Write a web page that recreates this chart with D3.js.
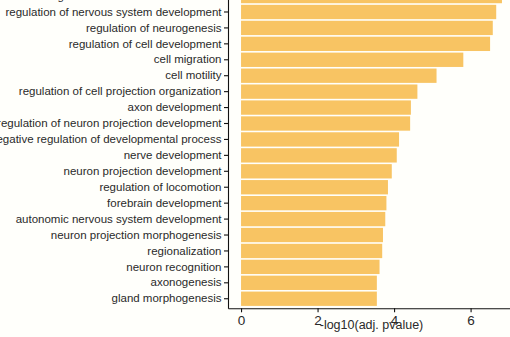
<!DOCTYPE html>
<html>
<head>
<meta charset="utf-8">
<script src="https://cdn.jsdelivr.net/npm/d3@7"></script>
<style>
  html, body { margin: 0; padding: 0; background: #fffffb; }
  svg { display: block; }
</style>
</head>
<body>
<svg id="chart" width="510" height="337"></svg>
<script>
// GO terms, top to bottom, with their enrichment scores
const categories = [
  "regulation of neuron differentiation",
  "regulation of nervous system development",
  "regulation of neurogenesis",
  "regulation of cell development",
  "cell migration",
  "cell motility",
  "regulation of cell projection organization",
  "axon development",
  "regulation of neuron projection development",
  "negative regulation of developmental process",
  "nerve development",
  "neuron projection development",
  "regulation of locomotion",
  "forebrain development",
  "autonomic nervous system development",
  "neuron projection morphogenesis",
  "regionalization",
  "neuron recognition",
  "axonogenesis",
  "gland morphogenesis"
];
const values = [
  6.82, 6.67, 6.58, 6.51, 5.81, 5.11, 4.61, 4.44, 4.42, 4.13,
  4.07, 3.94, 3.84, 3.80, 3.77, 3.71, 3.69, 3.62, 3.55, 3.55
];
const xTickValues = [0, 2, 4, 6];
const xTitle = "-log10(adj. pvalue)";

const svg = d3.select("#chart");
const font = "'Liberation Sans', Arial, Helvetica, sans-serif";

const panel = { left: 228, right: 515, top: -13.5, bottom: 308.3 };

const xMax = d3.max(values);
const x = d3.scaleLinear()
  .domain([-0.05 * xMax, xMax * 1.05])
  .range([panel.left, panel.right]);

const y = d3.scaleBand()
  .domain(categories)
  .range([panel.top, panel.bottom])
  .paddingInner(0.1)
  .paddingOuter(0.15);

// bars
svg.append("g")
  .selectAll("rect")
  .data(categories)
  .join("rect")
  .attr("x", x(0))
  .attr("y", d => y(d))
  .attr("width", (d, i) => x(values[i]) - x(0))
  .attr("height", y.bandwidth())
  .attr("fill", "#f8c463");

// y axis
const yAxis = svg.append("g")
  .attr("transform", `translate(${panel.left},0)`)
  .call(d3.axisLeft(y).tickSize(4).tickSizeOuter(0).tickPadding(2.5));
yAxis.selectAll("text")
  .attr("font-family", font)
  .attr("font-size", "11.5px")
  .attr("fill", "#2a2a2a");

// x axis
const xAxis = svg.append("g")
  .attr("transform", `translate(0,${panel.bottom})`)
  .call(d3.axisBottom(x).tickValues(xTickValues).tickFormat(d3.format("d"))
    .tickSize(4).tickSizeOuter(0).tickPadding(2.7));
xAxis.selectAll("text")
  .attr("font-family", font)
  .attr("font-size", "13.5px")
  .attr("fill", "#2a2a2a");

[yAxis, xAxis].forEach(g => {
  g.select(".domain").attr("stroke", "#111").attr("stroke-width", 1.1);
  g.selectAll(".tick line").attr("stroke", "#111").attr("stroke-width", 1.1);
});

// x axis title
svg.append("text")
  .attr("x", (panel.left + panel.right) / 2)
  .attr("y", 328.5)
  .attr("text-anchor", "middle")
  .attr("font-family", font)
  .attr("font-size", "12.5px")
  .attr("fill", "#2a2a2a")
  .text(xTitle);
</script>
</body>
</html>
